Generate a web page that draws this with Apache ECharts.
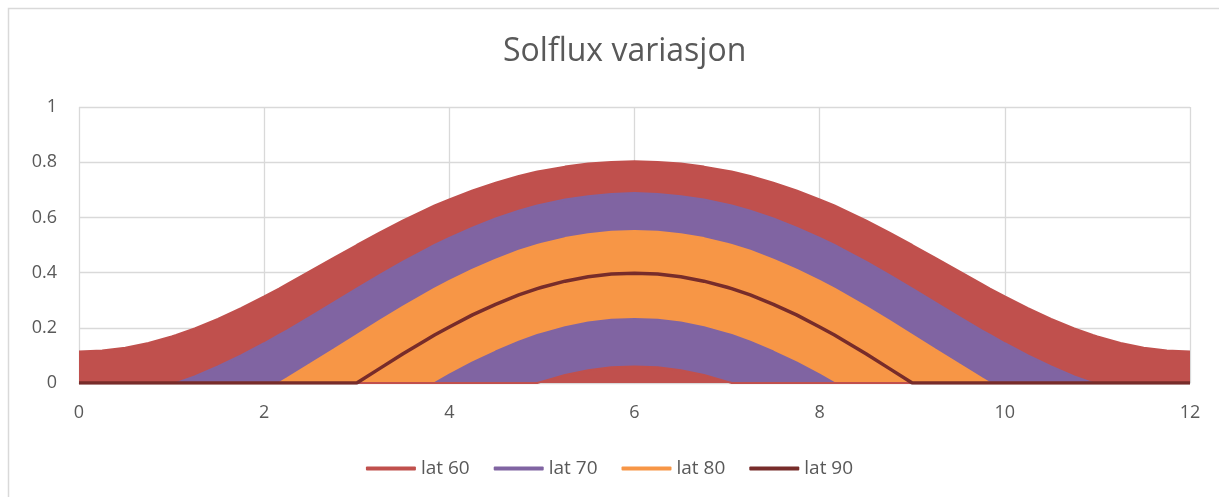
<!DOCTYPE html>
<html>
<head>
<meta charset="utf-8">
<script src="https://cdn.jsdelivr.net/npm/echarts@6/dist/echarts.min.js"></script>
<style>
  html, body { margin: 0; padding: 0; background: #fff; }
  #main { width: 1219px; height: 497px; }
</style>
</head>
<body>
<div id="main"></div>
<script>
// måneder (x), med ekstra punkt der kurvene treffer null
const months = [
    0, 0.25, 0.5, 0.75, 1, 1.05, 1.25, 1.5, 1.75, 2,
    2.16, 2.25, 2.5, 2.75, 3, 3.25, 3.5, 3.75, 3.84, 4,
    4.25, 4.5, 4.75, 4.95, 5, 5.25, 5.5, 5.75, 6,
    6.25, 6.5, 6.75, 7, 7.05, 7.25, 7.5, 7.75, 8, 8.16,
    8.25, 8.5, 8.75, 9, 9.25, 9.5, 9.75, 9.84, 10, 10.25,
    10.5, 10.75, 10.95, 11, 11.25, 11.5, 11.75, 12
];

// øvre kant (middag) og nedre kant (midnatt) for hvert bånd
const lat60Top = [
    0.114, 0.118, 0.128, 0.145, 0.169, 0.174, 0.198, 0.232, 0.271, 0.314,
    0.342, 0.359, 0.406, 0.453, 0.500, 0.546, 0.589, 0.629, 0.643, 0.665,
    0.698, 0.726, 0.750, 0.766, 0.769, 0.784, 0.795, 0.801, 0.803,
    0.801, 0.795, 0.784, 0.769, 0.766, 0.750, 0.726, 0.698, 0.665, 0.643,
    0.629, 0.589, 0.546, 0.500, 0.453, 0.406, 0.359, 0.342, 0.314, 0.271,
    0.232, 0.198, 0.174, 0.169, 0.145, 0.128, 0.118, 0.114
];
const lat70Top = [
    0, 0, 0, 0, 0, 0, 0.024, 0.060, 0.100, 0.144,
    0.174, 0.191, 0.241, 0.291, 0.342, 0.392, 0.440, 0.484, 0.500, 0.526,
    0.563, 0.596, 0.624, 0.643, 0.647, 0.665, 0.677, 0.685, 0.688,
    0.685, 0.677, 0.665, 0.647, 0.643, 0.624, 0.596, 0.563, 0.526, 0.500,
    0.484, 0.440, 0.392, 0.342, 0.291, 0.241, 0.191, 0.174, 0.144, 0.100,
    0.060, 0.024, 0, 0, 0, 0, 0, 0
];
const lat80Top = [
    0, 0, 0, 0, 0, 0, 0, 0, 0, 0,
    0, 0.018, 0.069, 0.121, 0.174, 0.226, 0.277, 0.325, 0.342, 0.370,
    0.411, 0.447, 0.479, 0.500, 0.505, 0.525, 0.539, 0.548, 0.551,
    0.548, 0.539, 0.525, 0.505, 0.500, 0.479, 0.447, 0.411, 0.370, 0.342,
    0.325, 0.277, 0.226, 0.174, 0.121, 0.069, 0.018, 0, 0, 0,
    0, 0, 0, 0, 0, 0, 0, 0
];
const lat80Bottom = [
    0, 0, 0, 0, 0, 0, 0, 0, 0, 0,
    0, 0, 0, 0, 0, 0, 0, 0, 0, 0.030,
    0.075, 0.114, 0.150, 0.174, 0.179, 0.202, 0.219, 0.229, 0.232,
    0.229, 0.219, 0.202, 0.179, 0.174, 0.150, 0.114, 0.075, 0.030, 0,
    0, 0, 0, 0, 0, 0, 0, 0, 0, 0,
    0, 0, 0, 0, 0, 0, 0, 0
];
const lat70Bottom = [
    0, 0, 0, 0, 0, 0, 0, 0, 0, 0,
    0, 0, 0, 0, 0, 0, 0, 0, 0, 0,
    0, 0, 0, 0, 0.005, 0.029, 0.046, 0.057, 0.060,
    0.057, 0.046, 0.029, 0.005, 0, 0, 0, 0, 0, 0,
    0, 0, 0, 0, 0, 0, 0, 0, 0, 0,
    0, 0, 0, 0, 0, 0, 0, 0
];
const lat90 = [
    0, 0, 0, 0, 0, 0, 0, 0, 0, 0,
    0, 0, 0, 0, 0, 0.053, 0.106, 0.156, 0.174, 0.203,
    0.247, 0.285, 0.319, 0.342, 0.347, 0.369, 0.385, 0.395, 0.398,
    0.395, 0.385, 0.369, 0.347, 0.342, 0.319, 0.285, 0.247, 0.203, 0.174,
    0.156, 0.106, 0.053, 0, 0, 0, 0, 0, 0, 0,
    0, 0, 0, 0, 0, 0, 0, 0
];

const legendNames = ['lat 60', 'lat 70', 'lat 80', 'lat 90'];
const xTicks = { min: 0, max: 12, interval: 2 };
const yTicks = { min: 0, max: 1, interval: 0.2 };

const colors = {
    'lat 60': '#c0504d',
    'lat 70': '#8064a2',
    'lat 80': '#f79646',
    'lat 90': '#772c2a'
};

function pairs(values) {
    return months.map((m, i) => [m, values[i]]);
}

// fylt bånd: tegnes fra 0 og legges oppå hverandre
function band(name, values) {
    return {
        name: name,
        type: 'line',
        data: pairs(values),
        color: colors[name],
        symbol: 'none',
        lineStyle: { width: 2, color: colors[name] },
        areaStyle: { color: colors[name], opacity: 1 },
        emphasis: { disabled: true },
        animation: false
    };
}

const chart = echarts.init(document.getElementById('main'));

chart.setOption({
    backgroundColor: '#fff',
    title: {
        text: 'Solflux variasjon',
        left: 498,
        top: 31,
        textStyle: { fontFamily: 'Open Sans', fontSize: 32, fontWeight: 'normal', color: '#595959' }
    },
    legend: {
        data: legendNames,
        bottom: 14,
        left: 'center',
        icon: 'roundRect',
        itemWidth: 50,
        itemHeight: 4,
        itemGap: 24,
        textStyle: { fontFamily: 'Open Sans', fontSize: 19, color: '#595959' }
    },
    graphic: [{
        type: 'rect',
        shape: { x: 8.5, y: 8.5, width: 1400, height: 700 },
        style: { fill: 'none', stroke: '#d9d9d9', lineWidth: 1.5 },
        silent: true
    }],
    grid: { left: 79, right: 29, top: 107, bottom: 114 },
    xAxis: {
        type: 'value',
        min: xTicks.min,
        max: xTicks.max,
        interval: xTicks.interval,
        axisLine: { show: true, lineStyle: { color: '#d9d9d9' } },
        axisTick: { show: false },
        axisLabel: { margin: 21, fontFamily: 'Open Sans', fontSize: 18, color: '#595959' },
        splitLine: { show: true, lineStyle: { color: '#d9d9d9', width: 1.3 } }
    },
    yAxis: {
        type: 'value',
        min: yTicks.min,
        max: yTicks.max,
        interval: yTicks.interval,
        axisLine: { show: false },
        axisTick: { show: false },
        axisLabel: { margin: 22, fontFamily: 'Open Sans', fontSize: 18, color: '#595959' },
        splitLine: { show: true, lineStyle: { color: '#d9d9d9', width: 1.3 } }
    },
    series: [
        band('lat 60', lat60Top),
        band('lat 70', lat70Top),
        band('lat 80', lat80Top),
        band('lat 70', lat80Bottom),
        band('lat 60', lat70Bottom),
        {
            name: 'lat 90',
            type: 'line',
            data: pairs(lat90),
            color: colors['lat 90'],
            symbol: 'none',
            lineStyle: { width: 3.5, color: colors['lat 90'] },
            emphasis: { disabled: true },
            animation: false
        }
    ]
});
</script>
</body>
</html>
